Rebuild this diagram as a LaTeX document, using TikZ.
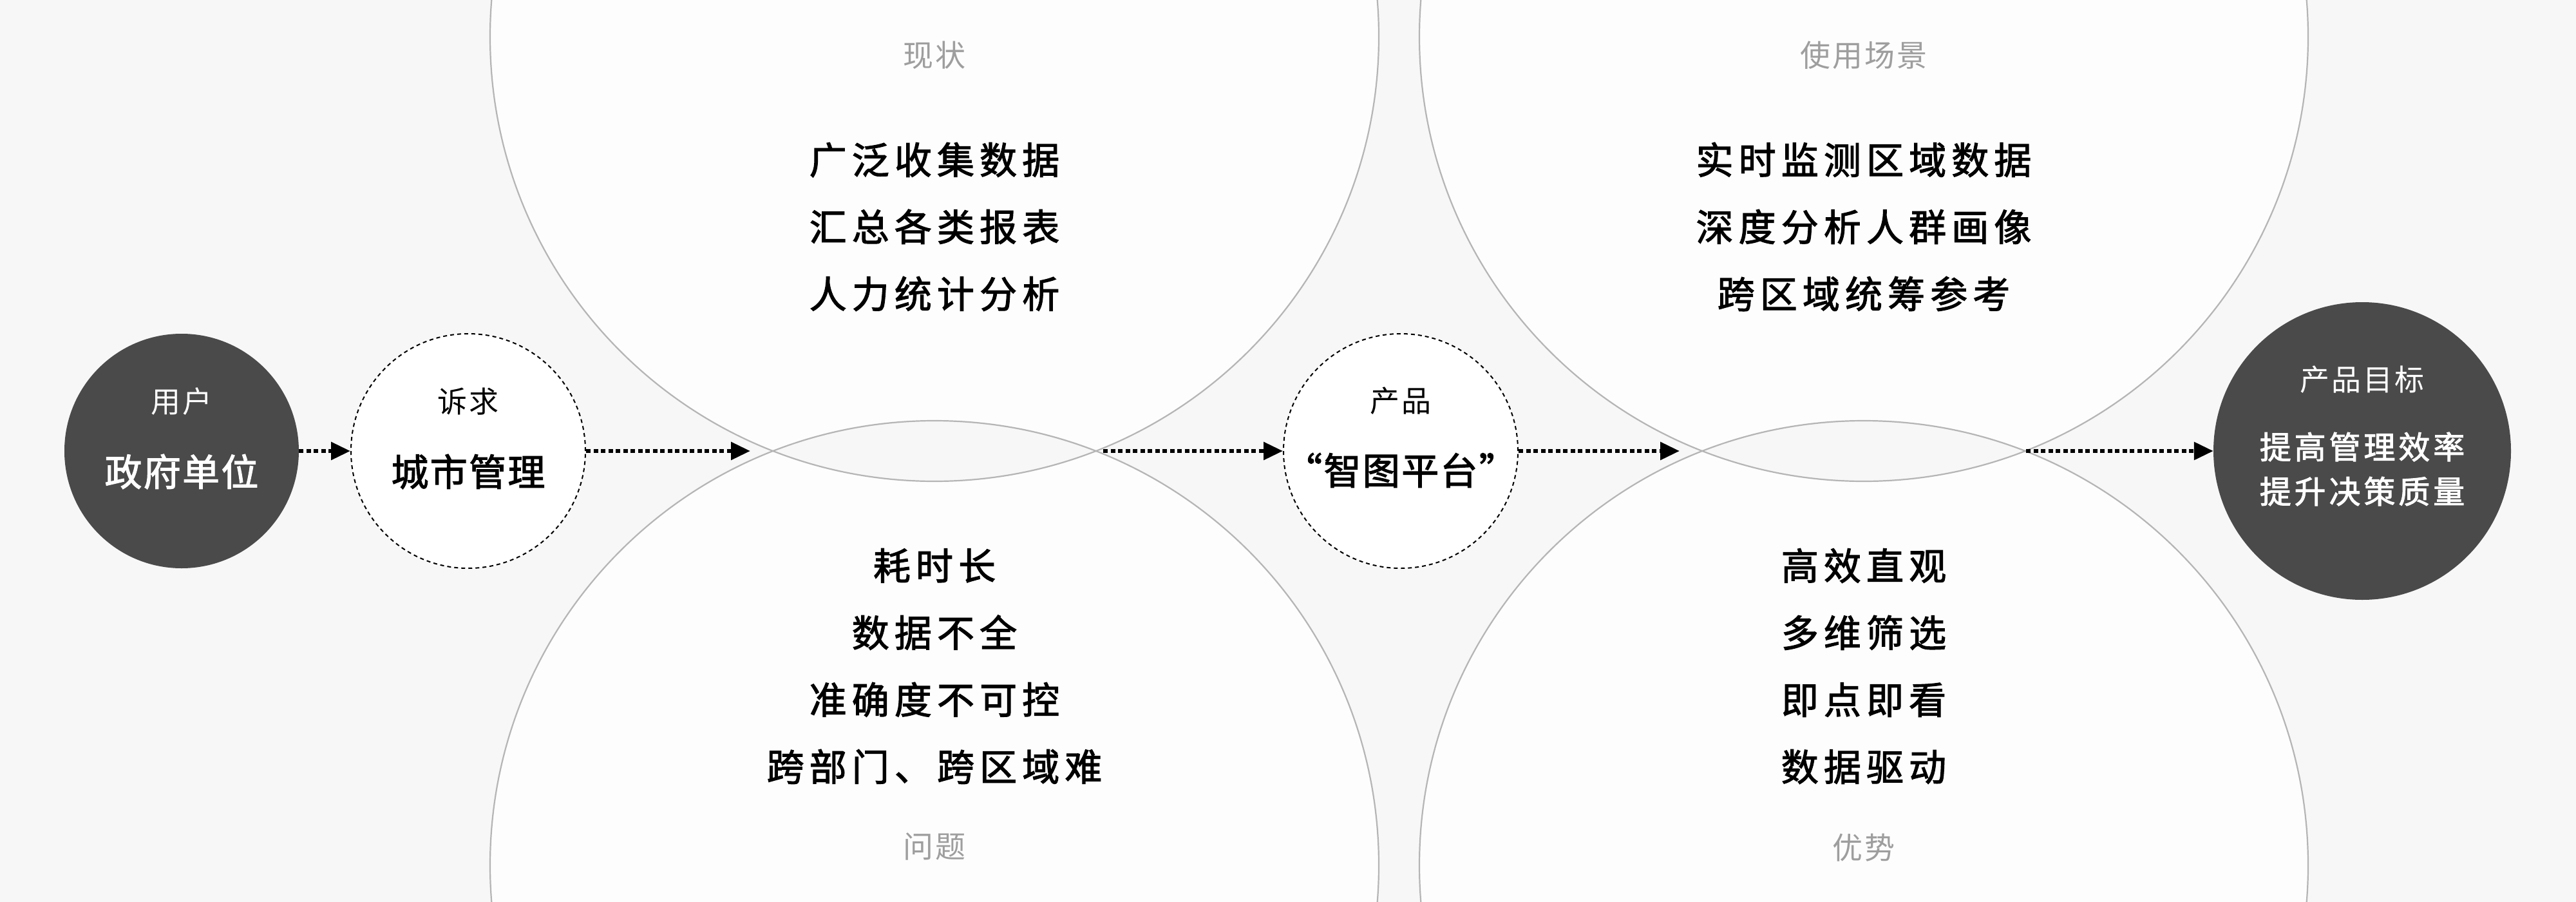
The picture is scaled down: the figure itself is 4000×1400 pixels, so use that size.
\documentclass[tikz,border=0pt]{standalone}
\usepackage{fontspec}
\setmainfont{Noto Sans CJK SC}
\newfontfamily\cjkmain[LetterSpace=14,FakeBold=2]{Noto Sans CJK SC}
\newfontfamily\cjkmid[LetterSpace=4,FakeBold=2]{Noto Sans CJK SC}
\newfontfamily\cjkgoal[LetterSpace=10,FakeBold=2]{Noto Sans CJK SC}
\newfontfamily\cjksmall[LetterSpace=6]{Noto Sans CJK SC}
\usetikzlibrary{arrows.meta}
\definecolor{bgc}{HTML}{F7F7F7}
\definecolor{circfill}{HTML}{FDFDFD}
\definecolor{circline}{HTML}{B5B5B5}
\definecolor{darkc}{HTML}{4A4A4A}
\definecolor{labelgray}{HTML}{9E9E9E}
\tikzset{
  bigcirc/.style={draw=circline, line width=2.2pt},
  darknode/.style={circle, fill=darkc, draw=none, inner sep=0pt},
  dashnode/.style={circle, fill=white, draw=black, line width=2pt, dash pattern=on 6pt off 5pt, inner sep=0pt, minimum size=364pt},
  flow/.style={line width=6pt, dash pattern=on 7pt off 4.5pt, -{Triangle[length=30pt,width=27pt]}},
  sectitle/.style={text=labelgray, font=\cjksmall\fontsize{47pt}{56pt}\selectfont, inner sep=0pt},
  biglines/.style={align=center, font=\cjkmain\fontsize{58pt}{104pt}\selectfont, inner sep=0pt},
  smalllbl/.style={font=\cjksmall\fontsize{46pt}{56pt}\selectfont, inner sep=0pt},
  midlbl/.style={font=\cjkmid\fontsize{58pt}{70pt}\selectfont, inner sep=0pt}
}
\begin{document}
\begin{tikzpicture}[x=1pt, y=-1pt]
\fill[bgc] (0,0) rectangle (4000,1400);
\useasboundingbox (0,0) rectangle (4000,1400);
\begin{scope}
\clip (0,0) rectangle (4000,1400);
% big circles
\fill[circfill] (1451,57) circle (690);
\fill[circfill] (1451,1343) circle (690);
\fill[circfill] (2894,57) circle (690);
\fill[circfill] (2894,1343) circle (690);
% lens overlaps
\begin{scope}
\clip (1451,57) circle (690);
\fill[bgc] (1451,1343) circle (690);
\end{scope}
\begin{scope}
\clip (2894,57) circle (690);
\fill[bgc] (2894,1343) circle (690);
\end{scope}
\draw[bigcirc] (1451,57) circle (690);
\draw[bigcirc] (1451,1343) circle (690);
\draw[bigcirc] (2894,57) circle (690);
\draw[bigcirc] (2894,1343) circle (690);
\end{scope}

% section titles
\node[sectitle] (t1) at (1451,86) {现状};
\node[sectitle] (t2) at (1451,1314) {问题};
\node[sectitle] (t3) at (2894,86) {使用场景};
\node[sectitle] (t4) at (2894,1316) {优势};

% section contents
\node[biglines] (c1) at (1451,352) {广泛收集数据\\汇总各类报表\\人力统计分析};
\node[biglines] (c2) at (1451,1034) {耗时长\\数据不全\\准确度不可控\\跨部门、跨区域难};
\node[biglines] (c3) at (2894,352) {实时监测区域数据\\深度分析人群画像\\跨区域统筹参考};
\node[biglines] (c4) at (2894,1034) {高效直观\\多维筛选\\即点即看\\数据驱动};

% flow nodes
\node[darknode, minimum size=364pt] (user) at (282,700) {};
\node[dashnode] (need) at (727,700) {};
\node[dashnode] (prod) at (2175,700) {};
\node[darknode, minimum size=462pt] (goal) at (3668,700) {};

\node[smalllbl, text=white] (userl) at (282,623) {用户};
\node[midlbl, text=white] (usert) at (282,732) {政府单位};
\node[smalllbl] (needl) at (727,623) {诉求};
\node[midlbl] (needt) at (727,732) {城市管理};
\node[smalllbl] (prodl) at (2175,622) {产品};
\node[midlbl] (prodt) at (2175,730) {“智图平台”};
\node[smalllbl, text=white] (goall) at (3668,589) {产品目标};
\node[align=center, text=white, inner sep=0pt, font=\cjkgoal\fontsize{49pt}{69pt}\selectfont] (goalt) at (3668,728) {提高管理效率\\提升决策质量};

% lens tips
\coordinate (lensLa) at (1201,700);
\coordinate (lensLb) at (1701,700);
\coordinate (lensRa) at (2644,700);
\coordinate (lensRb) at (3144,700);

% arrows
\draw[flow] (user.east) -- (need.west);
\draw[flow, shorten >=36pt] (need.east) -- (lensLa);
\draw[flow, shorten <=12pt] (lensLb) -- (prod.west);
\draw[flow, shorten >=36pt] (prod.east) -- (lensRa);
\draw[flow, shorten <=2pt] (lensRb) -- (goal.west);
\end{tikzpicture}
\end{document}
